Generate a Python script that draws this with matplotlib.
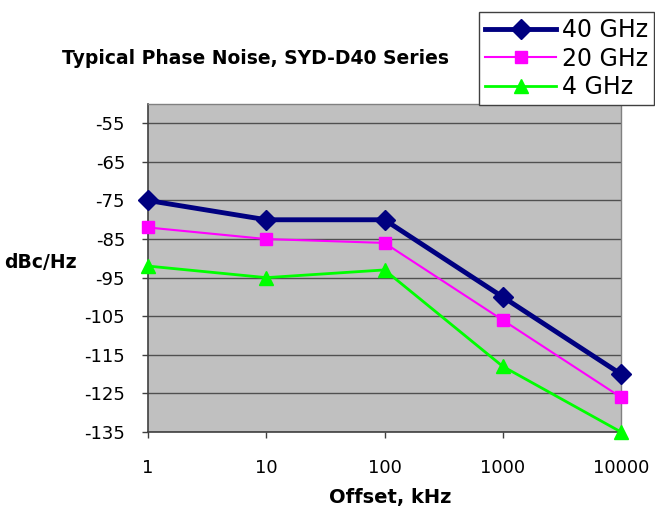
import numpy as np
import matplotlib.pyplot as plt

# offsets (kHz) and phase noise values (dBc/Hz)
offsets = [1, 10, 100, 1000, 10000]
noise_40ghz = [-75, -80, -80, -100, -120]
noise_20ghz = [-82, -85, -86, -106, -126]
noise_4ghz = [-92, -95, -93, -118, -135]
y_ticks = [-55, -65, -75, -85, -95, -105, -115, -125, -135]

plt.rcParams['font.family'] = ['DejaVu Sans']

fig = plt.figure(figsize=(6.55, 5.15), dpi=100)
ax = fig.add_axes([148 / 655, 83 / 515, 473 / 655, 328 / 515])
ax.set_facecolor('#C0C0C0')

ax.plot(offsets, noise_40ghz, color='#000080', lw=3.5, marker='D', ms=10,
        label='40 GHz', zorder=5, clip_on=False)
ax.plot(offsets, noise_20ghz, color='#FF00FF', lw=1.5, marker='s', ms=9,
        label='20 GHz', zorder=4, clip_on=False)
ax.plot(offsets, noise_4ghz, color='#00FF00', lw=2, marker='^', ms=10,
        label='4 GHz', zorder=3, clip_on=False)

ax.set_xscale('log')
ax.set_xlim(1, 10000)
ax.set_xticks(offsets)
ax.set_xticklabels([str(o) for o in offsets])
ax.minorticks_off()
ax.set_ylim(-135, -50)
ax.set_yticks(y_ticks)
ax.set_yticklabels([str(t) for t in y_ticks])
ax.yaxis.grid(True, color='#505050', lw=1)
ax.set_axisbelow(True)

ax.tick_params(axis='both', labelsize=13, direction='out', length=4.5,
               color='#404040', width=1)
ax.tick_params(axis='x', pad=15)
ax.tick_params(axis='y', pad=12)

for s in ['left', 'bottom']:
    ax.spines[s].set_color('#404040')
    ax.spines[s].set_linewidth(1.2)
for s in ['top', 'right']:
    ax.spines[s].set_color('#808080')
    ax.spines[s].set_linewidth(1)

fig.text(4 / 655, 1 - 263 / 515, 'dBc/Hz', fontsize=13.5, fontweight='bold',
         ha='left', va='center')
fig.text(390 / 655, 1 - 497 / 515, 'Offset, kHz', fontsize=14,
         fontweight='bold', ha='center', va='center')
fig.text(62 / 655, 1 - 59 / 515, 'Typical Phase Noise, SYD-D40 Series',
         fontsize=13.5, fontweight='bold', ha='left', va='center')

leg = fig.legend(loc='upper right', bbox_to_anchor=(654 / 655, 1 - 12 / 515),
                 fontsize=17, frameon=True, fancybox=False, framealpha=1,
                 edgecolor='#404040', borderaxespad=0, handlelength=3.0,
                 handletextpad=0.25, labelspacing=0.2, borderpad=0.25)
leg.get_frame().set_linewidth(1)
leg.set_zorder(10)

plt.savefig('out.png', dpi=100)
